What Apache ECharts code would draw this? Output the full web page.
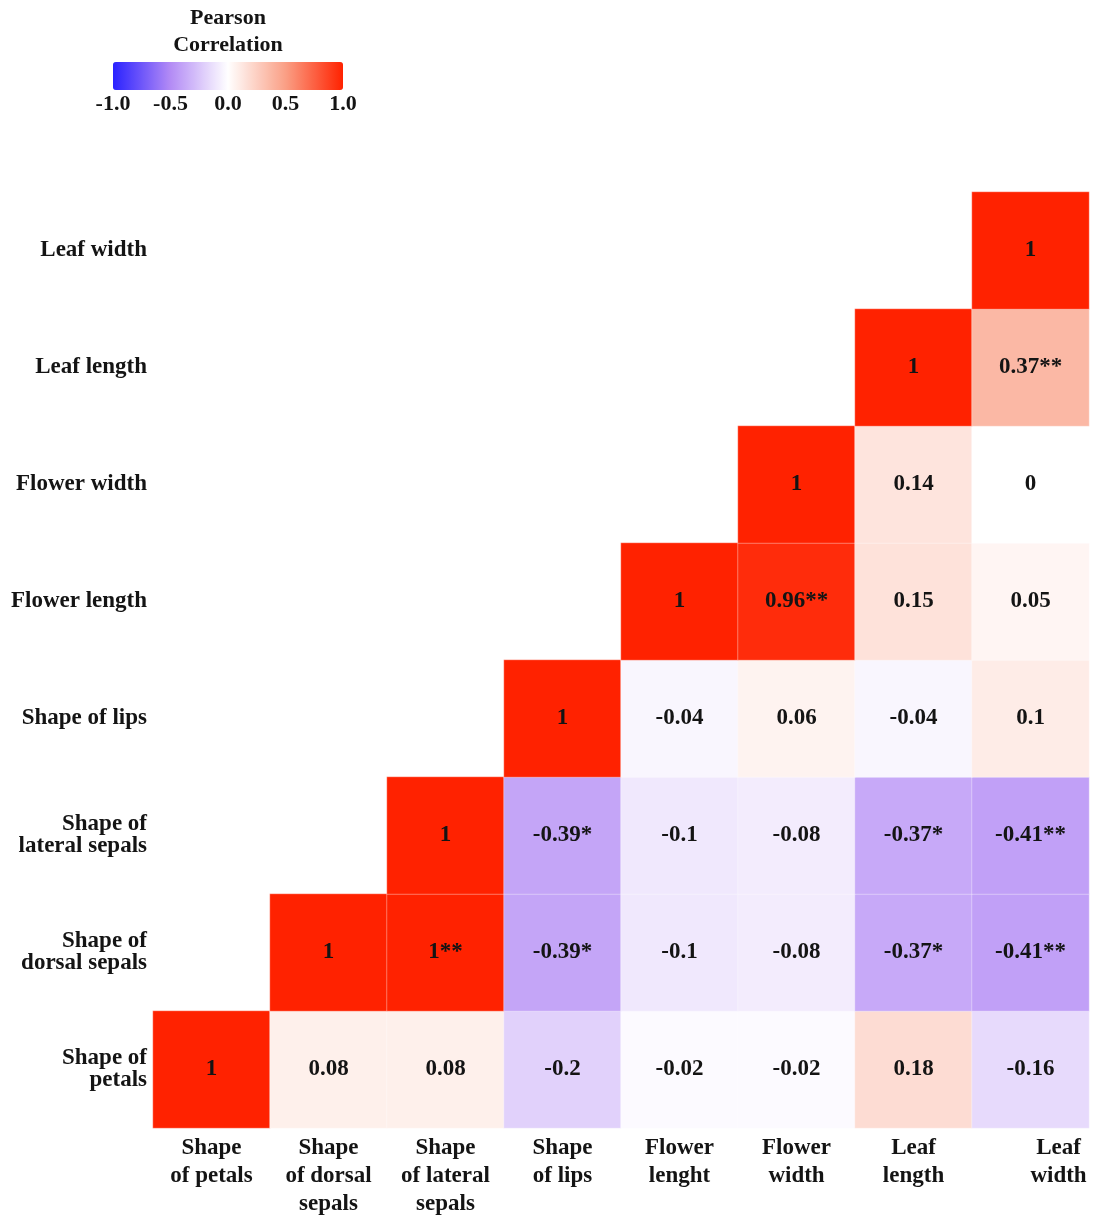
<!DOCTYPE html>
<html>
<head>
<meta charset="utf-8">
<title>Pearson correlation heatmap</title>
<script src="https://cdn.jsdelivr.net/npm/echarts@6/dist/echarts.min.js"></script>
<style>
  html, body { margin: 0; padding: 0; background: #ffffff; }
  #chart { width: 1094px; height: 1220px; }
</style>
</head>
<body>
<div id="chart"></div>
<script>
// Traits, in column order (left to right) and row order (bottom to top)
const categories = ['Shape of petals', 'Shape of dorsal sepals', 'Shape of lateral sepals', 'Shape of lips',
  'Flower length', 'Flower width', 'Leaf length', 'Leaf width'];

// Axis tick labels
const xTickLabels = ['Shape\nof petals', 'Shape\nof dorsal\nsepals', 'Shape\nof lateral\nsepals', 'Shape\nof lips',
  'Flower\nlenght', 'Flower\nwidth', 'Leaf\nlength', 'Leaf\nwidth'];
const yTickLabels = ['Shape of\npetals', 'Shape of\ndorsal sepals', 'Shape of\nlateral sepals', 'Shape of lips',
  'Flower length', 'Flower width', 'Leaf length', 'Leaf width'];

// Correlation coefficients: each row starts at its own diagonal cell
const rPetals        = [1, 0.08, 0.08, -0.2, -0.02, -0.02, 0.18, -0.16];
const rDorsalSepals  = [1, 1, -0.39, -0.1, -0.08, -0.37, -0.41];
const rLateralSepals = [1, -0.39, -0.1, -0.08, -0.37, -0.41];
const rLips          = [1, -0.04, 0.06, -0.04, 0.1];
const rFlowerLength  = [1, 0.96, 0.15, 0.05];
const rFlowerWidth   = [1, 0.14, 0];
const rLeafLength    = [1, 0.37];
const rLeafWidth     = [1];

// Significance marks (* p<0.05, ** p<0.01), same layout as the coefficients
const sPetals        = ['', '', '', '', '', '', '', ''];
const sDorsalSepals  = ['', '**', '*', '', '', '*', '**'];
const sLateralSepals = ['', '*', '', '', '*', '**'];
const sLips          = ['', '', '', '', ''];
const sFlowerLength  = ['', '**', '', ''];
const sFlowerWidth   = ['', '', ''];
const sLeafLength    = ['', '**'];
const sLeafWidth     = [''];

// Colour-bar tick values
const legendTicks = [-1, -0.5, 0, 0.5, 1];

const rows = [rPetals, rDorsalSepals, rLateralSepals, rLips, rFlowerLength, rFlowerWidth, rLeafLength, rLeafWidth];
const sigs = [sPetals, sDorsalSepals, sLateralSepals, sLips, sFlowerLength, sFlowerWidth, sLeafLength, sLeafWidth];

const cells = [];
rows.forEach((row, j) => {
  row.forEach((v, k) => {
    cells.push([j + k, j, v, sigs[j][k]]);
  });
});

const FONT = '"Liberation Serif", "DejaVu Serif", serif';
const INK = '#141414';

// The last column caption sits a little right of its column centre
const xAxisData = categories.map((c, i) =>
  i === categories.length - 1 ? { value: c, textStyle: { padding: [0, 0, 0, 56] } } : c);

const chart = echarts.init(document.getElementById('chart'), null, { renderer: 'canvas' });

chart.setOption({
  backgroundColor: '#ffffff',
  animation: false,
  title: {
    text: 'Pearson\nCorrelation',
    left: 223,
    top: 0,
    textAlign: 'center',
    textStyle: { fontFamily: FONT, fontWeight: 'bold', fontSize: 22, lineHeight: 27, color: INK }
  },
  grid: [
    { left: 153, right: 5, top: 192, bottom: 92 },
    { left: 113, top: 62, width: 230, height: 28 }
  ],
  xAxis: [
    {
      type: 'category',
      gridIndex: 0,
      data: xAxisData,
      axisLine: { show: false },
      axisTick: { show: false },
      splitLine: { show: false },
      axisLabel: {
        interval: 0,
        margin: 6,
        fontFamily: FONT, fontWeight: 'bold', fontSize: 23, lineHeight: 28, color: INK,
        formatter: (v, i) => xTickLabels[i]
      }
    },
    {
      type: 'value',
      gridIndex: 1,
      min: -1, max: 1, interval: 0.5,
      axisLine: { show: false },
      splitLine: { show: false },
      axisTick: { show: true, inside: true, length: 4, lineStyle: { color: 'rgba(255,255,255,0.55)', width: 1 } },
      axisLabel: {
        margin: 3,
        fontFamily: FONT, fontWeight: 'bold', fontSize: 22, color: INK,
        formatter: v => v.toFixed(1),
        showMinLabel: true, showMaxLabel: true
      }
    }
  ],
  yAxis: [
    {
      type: 'category',
      gridIndex: 0,
      data: categories,
      axisLine: { show: false },
      axisTick: { show: false },
      splitLine: { show: false },
      axisLabel: {
        interval: 0,
        margin: 6,
        fontFamily: FONT, fontWeight: 'bold', fontSize: 23, lineHeight: 22, color: INK,
        formatter: (v, i) => yTickLabels[i]
      }
    },
    { type: 'value', gridIndex: 1, show: false, min: 0, max: 1 }
  ],
  visualMap: {
    type: 'continuous',
    min: -1,
    max: 1,
    dimension: 2,
    seriesIndex: 0,
    orient: 'horizontal',
    left: 113,
    top: 62,
    padding: 0,
    itemWidth: 28,
    itemHeight: 230,
    calculable: false,
    hoverLink: false,
    text: ['', ''],
    inRange: { color: ['#2a22ff', '#b38bf5', '#ffffff', '#fa9f85', '#ff2200'] }
  },
  series: [{
    type: 'heatmap',
    xAxisIndex: 0,
    yAxisIndex: 0,
    data: cells,
    itemStyle: { borderColor: 'rgba(255,255,255,0.35)', borderWidth: 1 },
    label: {
      show: true,
      fontFamily: FONT, fontWeight: 'bold', fontSize: 23, color: INK,
      formatter: p => String(p.value[2]) + p.value[3]
    },
    emphasis: { disabled: true }
  }]
});
</script>
</body>
</html>
